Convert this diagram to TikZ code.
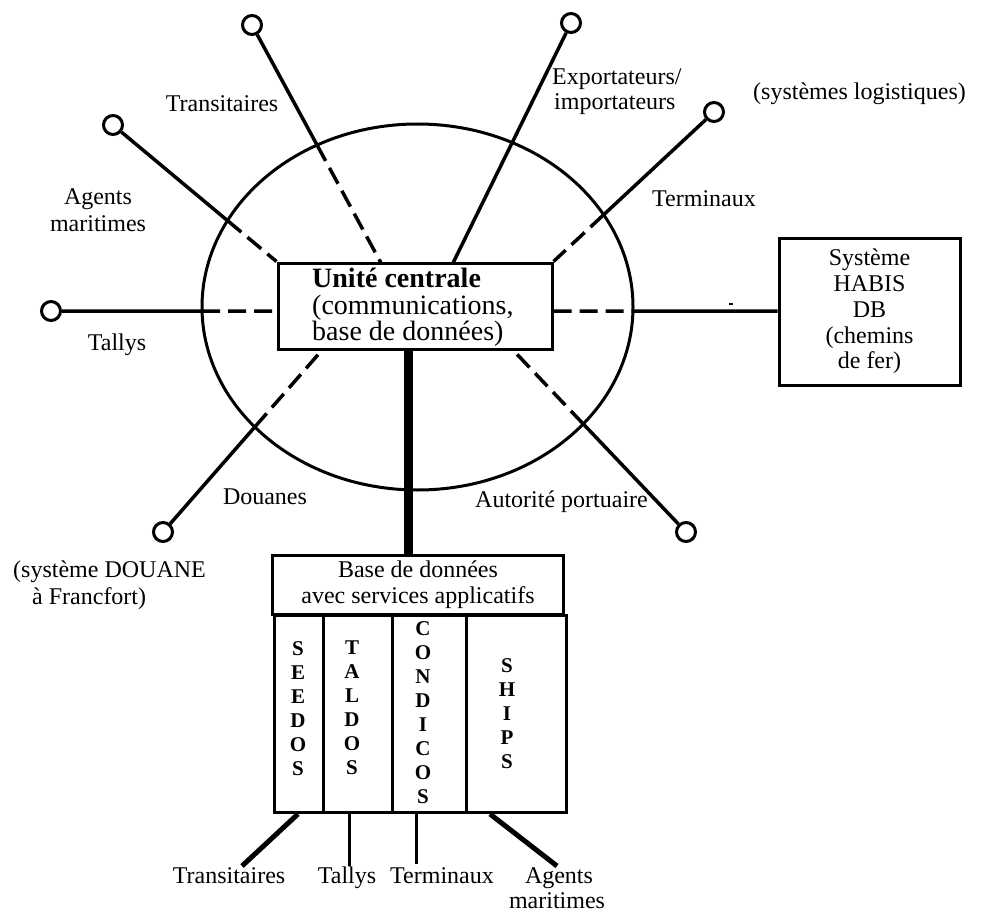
\documentclass[tikz,border=0pt]{standalone}
\usepackage{fontspec}
\setmainfont{Liberation Serif}
\usetikzlibrary{calc,intersections}
\begin{document}
\begin{tikzpicture}[x=1pt,y=-1pt,
  lbl/.style={font=\fontsize{24}{25.5}\selectfont, inner sep=0pt},
  term/.style={circle, draw, line width=3pt, fill=white, minimum size=19pt, inner sep=0pt},
  boxed/.style={draw, line width=3pt, inner sep=0pt},
  wire/.style={line width=3.5pt},
  dwire/.style={line width=3.5pt, dash pattern=on 18pt off 8pt},
  letters/.style={font=\fontsize{21}{24}\selectfont\bfseries, align=center, inner sep=0pt},
]
\useasboundingbox (0,0) rectangle (985,912);

% central ring
\draw[line width=3pt, name path=ring] (417.5,307) ellipse [x radius=215.5, y radius=183];

% central unit
\node[boxed, fill=white, minimum width=274pt, minimum height=86pt] (cbox) at (415,306) {};
\node[align=left, inner sep=0pt, font=\fontsize{28}{26.5}\selectfont, anchor=north west]
  (ctext) at (312,268) {\textbf{Unité centrale}\\(communications,\\base de données)};

% HABIS system
\node[boxed, minimum width=181pt, minimum height=147pt, align=center,
      font=\fontsize{24}{25.8}\selectfont] (habis) at (869.5,311.5)
  {Système\\HABIS\\DB\\(chemins\\de fer)};

% database with application services
\node[boxed, minimum width=291pt, minimum height=59pt, align=center,
      font=\fontsize{24}{26}\selectfont] (dbhead) at (418,584.5)
  {Base de données\\avec services applicatifs};
\node[boxed, minimum width=49pt, minimum height=197pt, anchor=north west] (col1) at (273,614) {};
\node[boxed, minimum width=69pt, minimum height=197pt, anchor=north west] (col2) at (322,614) {};
\node[boxed, minimum width=74pt, minimum height=197pt, anchor=north west] (col3) at (391,614) {};
\node[boxed, minimum width=100pt, minimum height=197pt, anchor=north west] (col4) at (465,614) {};
\node[letters] (seedos) at (298,709) {S\\E\\E\\D\\O\\S};
\node[letters] (taldos) at (352,708) {T\\A\\L\\D\\O\\S};
\node[letters] (condicos) at (423,713) {C\\O\\N\\D\\I\\C\\O\\S};
\node[letters] (ships) at (507,714) {S\\H\\I\\P\\S};

% terminals
\node[term] (tTrans) at (252,25) {};
\node[term] (tAgents) at (113,125) {};
\node[term] (tTallys) at (51,311) {};
\node[term] (tExport) at (571,23) {};
\node[term] (tTerm) at (714,112) {};
\node[term] (tDouanes) at (163,532) {};
\node[term] (tAutor) at (686,532) {};

% attachment points on the central unit
\coordinate (aTrans) at (381,263);
\coordinate (aAgents) at (cbox.north west);
\coordinate (aTallys) at (cbox.west |- tTallys);
\coordinate (aExport) at (453,263);
\coordinate (aTerm) at (cbox.north east);
\coordinate (aHabis) at (cbox.east |- tTallys);
\coordinate (aDouanes) at (323,349);
\coordinate (aAutor) at (512,349);

% spokes: solid outside the ring, dashed inside
\foreach \t/\a in {tTrans/aTrans, tAgents/aAgents, tTallys/aTallys, tTerm/aTerm, tDouanes/aDouanes, tAutor/aAutor}{
  \path[name path=spoke] (\t) -- (\a);
  \path[name intersections={of=ring and spoke, by=cut}];
  \draw[wire] (\t) -- (cut);
  \draw[dwire] (cut) -- (\a);
}
\draw[wire] (tExport) -- (aExport);

% link to HABIS
\path[name path=hlink] (aHabis) -- (habis.west |- aHabis);
\path[name intersections={of=ring and hlink, by=hcut}];
\draw[dwire] (aHabis) -- (hcut);
\draw[wire] (hcut) -- (habis.west |- aHabis);
\fill (729,302.5) rectangle (733,305);

% trunk to the database
\draw[line width=9pt] (cbox.south -| 408,0) -- (dbhead.north -| 408,0);

% users of the application services
\coordinate (uTrans) at (242,866);
\coordinate (uTallys) at (349,866);
\coordinate (uTerm) at (416,864);
\coordinate (uAgents) at (557,866);
\draw[line width=5pt] ([xshift=25pt]col1.south west) -- (uTrans);
\draw[line width=3pt] ([xshift=27pt]col2.south west) -- (uTallys);
\draw[line width=3pt] ([xshift=25pt]col3.south west) -- (uTerm);
\draw[line width=5pt] ([xshift=25pt]col4.south west) -- (uAgents);

% labels
\node[lbl, anchor=base] at (222,112) {Transitaires};
\node[lbl, anchor=base] at (98,205) {Agents};
\node[lbl, anchor=base] at (98,232) {maritimes};
\node[lbl, anchor=base] at (117,350) {Tallys};
\node[lbl, anchor=base] at (265,504) {Douanes};
\node[lbl, anchor=base west] at (13,577) {(système DOUANE};
\node[lbl, anchor=base west] at (32,604) {à Francfort)};
\node[lbl, anchor=base west] at (552,85) {Exportateurs/};
\node[lbl, anchor=base west] at (554,110) {importateurs};
\node[lbl, anchor=base west] at (753,100) {(systèmes logistiques)};
\node[lbl, anchor=base west] at (652,207) {Terminaux};
\node[lbl, anchor=base west] at (475,507) {Autorité portuaire};
\node[lbl, anchor=base] at (229,883) {Transitaires};
\node[lbl, anchor=base] at (347,883) {Tallys};
\node[lbl, anchor=base] at (442,883) {Terminaux};
\node[lbl, anchor=base] at (559,883) {Agents};
\node[lbl, anchor=base] at (557,908) {maritimes};
\end{tikzpicture}
\end{document}
